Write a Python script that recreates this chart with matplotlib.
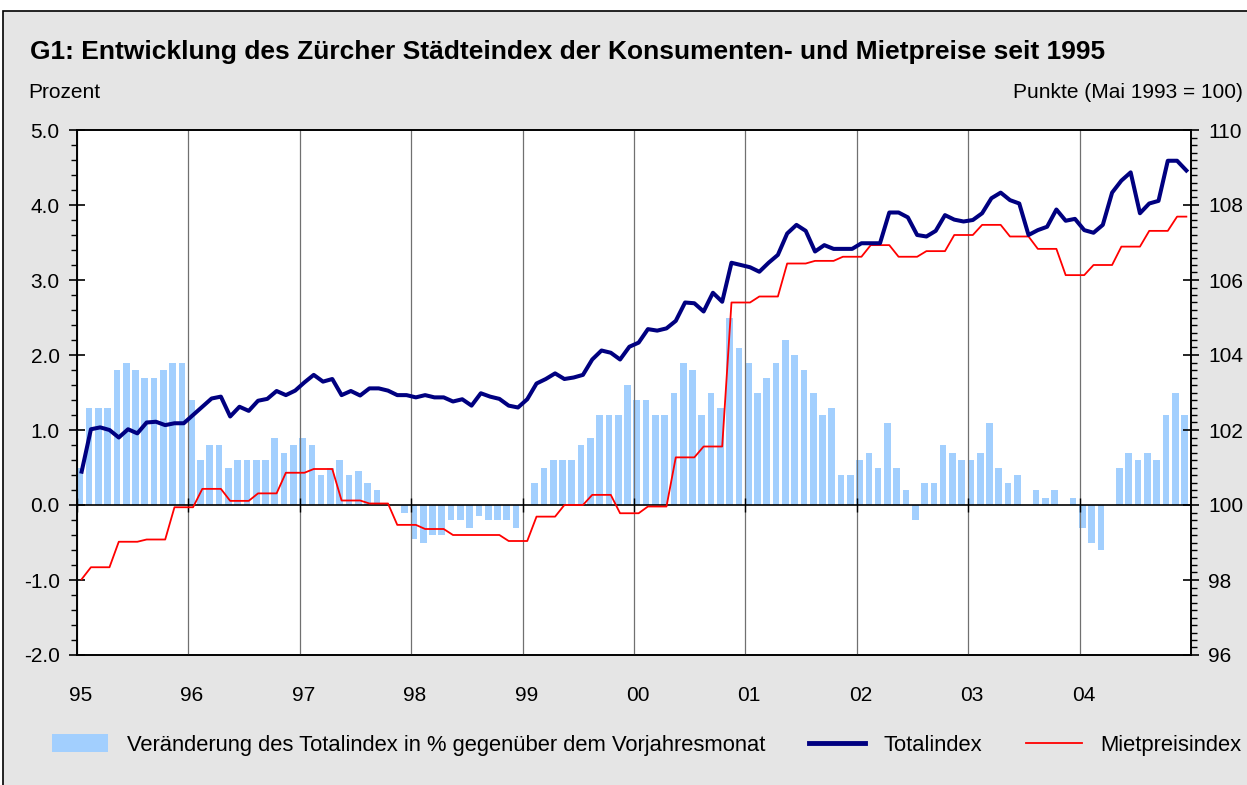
import numpy as np
import matplotlib
matplotlib.use("Agg")
from matplotlib import pyplot as plt
from matplotlib.patches import Rectangle, Patch
from matplotlib.lines import Line2D
from matplotlib.ticker import MultipleLocator

plt.rcParams['font.family'] = ['Liberation Sans', 'DejaVu Sans']

# Veränderung des Totalindex in % gegenüber Vorjahresmonat (Jan 1995 - Dez 2004)
veraenderung = [
    0.5, 1.3, 1.3, 1.3, 1.8, 1.9, 1.8, 1.7, 1.7, 1.8, 1.9, 1.9,
    1.4, 0.6, 0.8, 0.8, 0.5, 0.6, 0.6, 0.6, 0.6, 0.9, 0.7, 0.8,
    0.9, 0.8, 0.4, 0.5, 0.6, 0.4, 0.45, 0.3, 0.2, 0.0, 0.0, -0.1,
    -0.45, -0.5, -0.4, -0.4, -0.2, -0.2, -0.3, -0.15, -0.2, -0.2, -0.2, -0.3,
    0.0, 0.3, 0.5, 0.6, 0.6, 0.6, 0.8, 0.9, 1.2, 1.2, 1.2, 1.6,
    1.4, 1.4, 1.2, 1.2, 1.5, 1.9, 1.8, 1.2, 1.5, 1.3, 2.5, 2.1,
    1.9, 1.5, 1.7, 1.9, 2.2, 2.0, 1.8, 1.5, 1.2, 1.3, 0.4, 0.4,
    0.6, 0.7, 0.5, 1.1, 0.5, 0.2, -0.2, 0.3, 0.3, 0.8, 0.7, 0.6,
    0.6, 0.7, 1.1, 0.5, 0.3, 0.4, 0.0, 0.2, 0.1, 0.2, 0.0, 0.1,
    -0.3, -0.5, -0.6, 0.0, 0.5, 0.7, 0.6, 0.7, 0.6, 1.2, 1.5, 1.2,
]

# Totalindex, Punkte (Mai 1993 = 100)
totalindex = [
    100.89, 102.02, 102.07, 102.00, 101.80, 102.02, 101.91, 102.20, 102.22, 102.13, 102.18, 102.18,
    102.40, 102.62, 102.84, 102.89, 102.36, 102.62, 102.51, 102.78, 102.83, 103.04, 102.93, 103.05,
    103.27, 103.47, 103.29, 103.36, 102.93, 103.04, 102.92, 103.11, 103.11, 103.05, 102.93, 102.93,
    102.87, 102.93, 102.87, 102.87, 102.76, 102.82, 102.65, 102.98, 102.89, 102.83, 102.65, 102.60,
    102.82, 103.24, 103.36, 103.51, 103.36, 103.40, 103.47, 103.88, 104.12, 104.06, 103.88, 104.22,
    104.33, 104.69, 104.65, 104.71, 104.91, 105.40, 105.38, 105.16, 105.66, 105.42, 106.46, 106.40,
    106.34, 106.22, 106.46, 106.67, 107.24, 107.47, 107.31, 106.76, 106.93, 106.83, 106.83, 106.83,
    106.98, 106.98, 106.98, 107.80, 107.80, 107.67, 107.20, 107.16, 107.31, 107.73, 107.61, 107.56,
    107.60, 107.78, 108.18, 108.33, 108.13, 108.04, 107.20, 107.33, 107.42, 107.88, 107.58, 107.63,
    107.33, 107.26, 107.47, 108.33, 108.65, 108.87, 107.78, 108.04, 108.11, 109.18, 109.18, 108.92,
]

# Mietpreisindex, Punkte (Mai 1993 = 100)
mietpreisindex = [
    98.02, 98.34, 98.34, 98.34, 99.02, 99.02, 99.02, 99.08, 99.08, 99.08, 99.94, 99.94,
    99.94, 100.43, 100.43, 100.43, 100.11, 100.11, 100.11, 100.31, 100.31, 100.31, 100.86, 100.86,
    100.86, 100.96, 100.96, 100.96, 100.12, 100.12, 100.12, 100.04, 100.04, 100.04, 99.47, 99.47,
    99.47, 99.36, 99.36, 99.36, 99.20, 99.20, 99.20, 99.20, 99.20, 99.20, 99.04, 99.04,
    99.04, 99.69, 99.69, 99.69, 100.00, 100.00, 100.00, 100.27, 100.27, 100.27, 99.78, 99.78,
    99.78, 99.96, 99.96, 99.96, 101.27, 101.27, 101.27, 101.56, 101.56, 101.56, 105.40, 105.40,
    105.40, 105.56, 105.56, 105.56, 106.44, 106.44, 106.44, 106.51, 106.51, 106.51, 106.62, 106.62,
    106.62, 106.93, 106.93, 106.93, 106.62, 106.62, 106.62, 106.77, 106.77, 106.77, 107.20, 107.20,
    107.20, 107.47, 107.47, 107.47, 107.16, 107.16, 107.16, 106.83, 106.83, 106.83, 106.13, 106.13,
    106.13, 106.40, 106.40, 106.40, 106.89, 106.89, 106.89, 107.31, 107.31, 107.31, 107.69, 107.69,
]

jahre = ['95', '96', '97', '98', '99', '00', '01', '02', '03', '04']

bar_color = '#a2cffe'
navy = '#000080'
rot = '#ff0000'
fs = 15

monate = np.arange(len(veraenderung))
jahr_pos = [12 * i - 0.5 for i in range(len(jahre))]

fig = plt.figure(figsize=(12.47, 7.85), dpi=100)
fig.patch.set_facecolor('white')
# grauer Hintergrund mit Rahmen
fig.patches.append(Rectangle((3 / 1247, -0.02), 1.05, 774 / 785 + 0.02,
                             transform=fig.transFigure, facecolor='#e5e5e5',
                             edgecolor='black', linewidth=1.2, zorder=-10))

ax = fig.add_axes([77 / 1247, 1 - 655 / 785, (1191 - 77) / 1247, (655 - 130) / 785])
ax.set_facecolor('white')
ax.bar(monate - 0.2, veraenderung, width=0.72, color=bar_color, zorder=1)
ax.set_xlim(-0.5, 119.5)
ax.set_ylim(-2, 5)
ax.yaxis.set_minor_locator(MultipleLocator(0.2))
ax.set_yticks(np.arange(-2, 5.1, 1))
ax.set_yticklabels(['%.1f' % v for v in np.arange(-2, 5.1, 1)], fontsize=fs)
ax.tick_params(axis='y', which='major', direction='inout', length=11, width=1.2, pad=7)
ax.tick_params(axis='y', which='minor', direction='out', length=4, width=1.0)

# x-Achse durch die Nulllinie
ax.spines['bottom'].set_position(('data', 0))
ax.set_xticks(jahr_pos)
ax.tick_params(axis='x', direction='inout', length=10, width=1.0, labelbottom=False)
ax.grid(axis='x', color='#707070', linewidth=0.9, zorder=0)
for s in ax.spines.values():
    s.set_linewidth(1.2)

# Jahresbeschriftung unten
sec = ax.secondary_xaxis('bottom')
sec.set_xticks([p + 0.4 for p in jahr_pos])
sec.set_xticklabels(jahre, fontsize=fs)
sec.tick_params(length=0, pad=22)
sec.spines['bottom'].set_linewidth(1.2)

ax2 = ax.twinx()
ax2.plot(monate, totalindex, color=navy, linewidth=2.9, zorder=3)
ax2.plot(monate, mietpreisindex, color=rot, linewidth=1.3, zorder=2)
ax2.set_ylim(96, 110)
ax2.set_yticks(np.arange(96, 111, 2))
ax2.set_yticklabels([str(v) for v in range(96, 111, 2)], fontsize=fs)
ax2.yaxis.set_minor_locator(MultipleLocator(0.2))
ax2.tick_params(axis='y', which='major', direction='inout', length=11, width=1.2, pad=7)
ax2.tick_params(axis='y', which='minor', direction='out', length=4, width=1.0)
for s in ax2.spines.values():
    s.set_linewidth(1.2)

fig.text(30 / 1247, 1 - 52 / 785,
         'G1: Entwicklung des Zürcher Städteindex der Konsumenten- und Mietpreise seit 1995',
         fontsize=19, fontweight='bold', ha='left', va='center')
fig.text(28 / 1247, 1 - 92 / 785, 'Prozent', fontsize=fs, ha='left', va='center')
fig.text(1243 / 1247, 1 - 92 / 785, 'Punkte (Mai 1993 = 100)', fontsize=fs, ha='right', va='center')

handles = [Patch(facecolor=bar_color, edgecolor='none'),
           Line2D([], [], color=navy, linewidth=3.5),
           Line2D([], [], color=rot, linewidth=1.3)]
labels = ['Veränderung des Totalindex in % gegenüber dem Vorjahresmonat',
          'Totalindex', 'Mietpreisindex']
fig.legend(handles, labels, loc='center', bbox_to_anchor=(647 / 1247, 1 - 745 / 785),
           ncol=3, frameon=False, fontsize=15.8, handlelength=2.55, handleheight=0.9,
           handletextpad=0.85, columnspacing=2.0)

fig.savefig('out.png', dpi=100)
